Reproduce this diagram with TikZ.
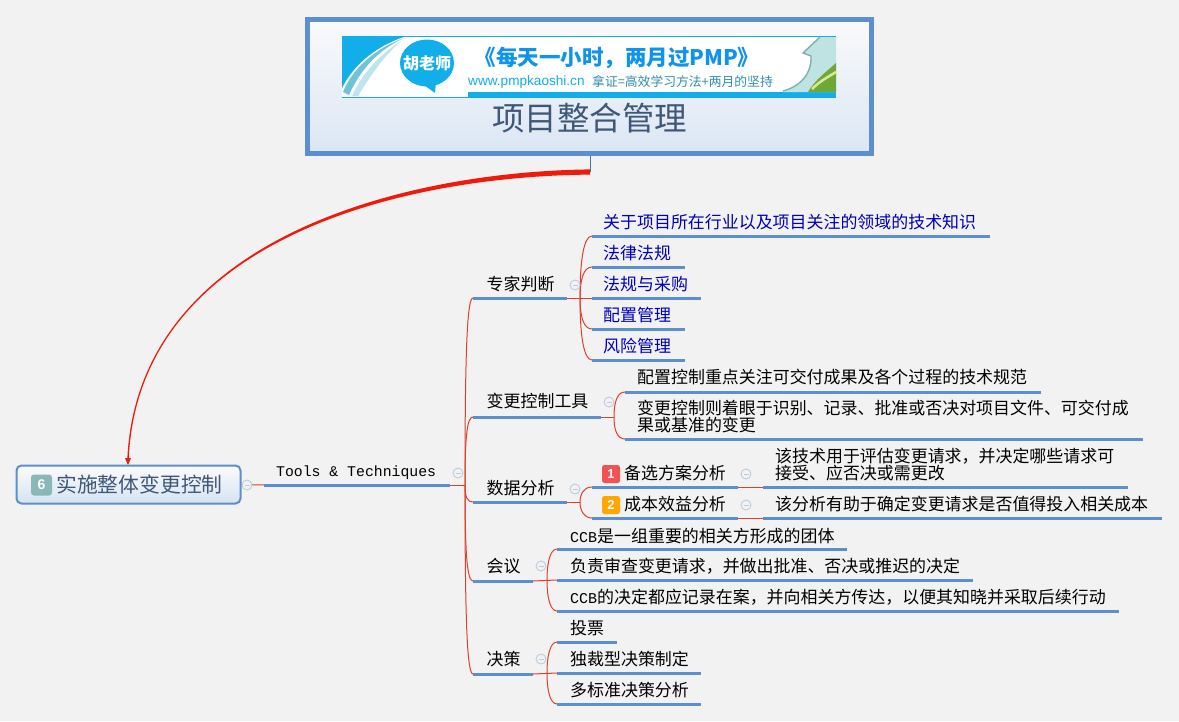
\documentclass[tikz,border=0pt]{standalone}
\usepackage{fontspec}
\setmainfont{Noto Sans CJK SC}
\newfontfamily\latinmono{Liberation Mono}
\newfontfamily\latinsans{Liberation Sans}
\definecolor{bgc}{HTML}{F2F2F2}
\definecolor{barblue}{HTML}{5B8FCF}
\definecolor{linkred}{HTML}{E0402A}
\definecolor{bigred}{HTML}{F01A0A}
\definecolor{inkblue}{HTML}{0000C0}
\definecolor{banc}{HTML}{12AEEA}
\definecolor{titlec}{HTML}{3F5878}
\definecolor{togc}{HTML}{BCCBE0}
\definecolor{stripe}{HTML}{6FC3D8}
\definecolor{paleteal}{HTML}{BFE2E2}
\definecolor{edgeteal}{HTML}{7FB0B0}
\definecolor{leaf}{HTML}{6FA83A}
\definecolor{leafy}{HTML}{DDE88A}
\usetikzlibrary{calc}
\tikzset{
  x=1pt,y=-1pt,
  bar/.style={draw=barblue,line width=3pt},
  link/.style={draw=linkred,line width=1pt},
  txt/.style={anchor=west,inner sep=0pt,font=\fontsize{16.95}{17}\selectfont,text=black,align=left},
  bluetxt/.style={txt,text=inkblue},
  toggle/.style={circle,draw=togc,fill=bgc,line width=.9pt,minimum size=10pt,inner sep=0pt,path picture={\draw[togc,line width=.9pt] ([xshift=-2.5pt]path picture bounding box.center)--([xshift=2.5pt]path picture bounding box.center);}},
  badge/.style={rounded corners=2.5pt,minimum size=18pt,inner sep=0pt,text=white,font=\latinsans\bfseries\fontsize{13}{13}\selectfont},
}
\newcommand{\topicbar}[8]{%
  \coordinate (#1-l) at (#2,#4);
  \coordinate (#1-r) at (#3,#4);
  \draw[bar] (#1-l) -- (#1-r);
  \node[#7] (#1-t) at (#5,#6) {#8};
}
% junction, child, fraction of the vertical run kept straight
\newcommand{\branch}[3]{%
  \draw[link] (#1) .. controls ($(#1)!#3!(#1 |- #2-l)$) and ($(#1 |- #2-l)!.3!(#2-l)$) .. (#2-l);
}
\newcommand{\ccb}{{\latinmono\fontsize{15}{17}\selectfont CCB}}
\begin{document}
\begin{tikzpicture}
\useasboundingbox (0,0) rectangle (1179,721);
\fill[bgc] (0,0) rectangle (1179,721);

% top box
\node[draw=barblue,line width=5pt,top color=white!60!bgc,bottom color=barblue!22!white,minimum width=564pt,minimum height=134pt,inner sep=0pt] (topbox) at (589,86) {};
% banner
\fill[white] (342,36) rectangle (836,98);
\draw[banc,line width=.8pt] (342,36.5) -- (836,36.5);
\fill[banc] (342,36) -- (407,36) .. controls (380,44) and (355,62) .. (342,88) -- cycle;
\fill[stripe] (343,92) .. controls (352,70) and (372,50) .. (404,38) .. controls (378,50) and (360,70) .. (349,95) -- cycle;
\fill[white!55!stripe] (352,96) .. controls (362,74) and (378,56) .. (402,40) .. controls (384,56) and (370,76) .. (358,96) -- cycle;
\fill[banc] (468,92) rectangle (836,98);
\fill[banc] (342,96.8) rectangle (468,98);
\fill[paleteal] (820,37) -- (836,37) -- (836,92) -- (783,92) .. controls (795,88) and (812,78) .. (811,56) -- (803,53) -- cycle;
\draw[edgeteal,line width=1.4pt] (820,37) -- (803,53) -- (811,56) .. controls (812,78) and (795,88) .. (783,91);
\fill[leaf] (808,92) .. controls (815,80) and (826,72) .. (836,63) -- (836,92) -- cycle;
\draw[leafy,line width=2.5pt] (812,89) .. controls (820,81) and (828,77) .. (836,72);
\fill[banc] (427,63) ellipse [x radius=27pt,y radius=23.5pt];
\fill[banc] (420,82) -- (436,82) -- (435,93) -- cycle;
\node[inner sep=0pt,text=white,font=\bfseries\fontsize{16}{16}\selectfont] (bn1) at (427,63) {胡老师};
\node[inner sep=0pt,text=banc!85!blue,font=\bfseries\fontsize{21.5}{22}\selectfont] (bn2) at (617,58) {《每天一小时，两月过PMP》};
\node[inner sep=0pt,anchor=west,text=banc,font=\latinsans\fontsize{13.6}{14}\selectfont] (bn3) at (468,82) {www.pmpkaoshi.cn};
\node[inner sep=0pt,anchor=west,text=banc!70!black!85!white,font=\fontsize{12.8}{13}\selectfont] (bn4) at (592,82) {拿证=高效学习方法+两月的坚持};
\node[inner sep=0pt,text=titlec,font=\fontsize{32.5}{33}\selectfont] (title) at (589.5,118) {项目整合管理};

\coordinate (curvestart) at (590,172);
\coordinate (curveend) at (128,465);
\draw[barblue!80!black,line width=.8pt] (topbox.south -| curvestart) -- (curvestart);

% central topic
\node[draw=barblue,line width=2pt,rounded corners=5pt,top color=white!70!bgc,bottom color=barblue!25!white,minimum width=224pt,minimum height=38pt,inner sep=0pt] (central) at (128.5,484.5) {};
\node[fill=teal!45!white!80!gray,rounded corners=3pt,minimum size=21pt,inner sep=0pt,text=white,font=\latinsans\bfseries\fontsize{14}{14}\selectfont] (badge6) at (41.5,485) {6};
\node[inner sep=0pt,anchor=west,text=titlec,font=\fontsize{20.8}{21}\selectfont] (centraltext) at (56,485) {实施整体变更控制};

% big red curve, tapering
\fill[bigred] ($(curvestart)+(0,-2.6)$) .. controls (400,171.8) and (137.4,240) .. ($(curveend)+(-.7,-6)$) -- ($(curveend)+(.7,-6)$) .. controls (138.6,240) and (400,176.2) .. ($(curvestart)+(0,2.6)$) -- cycle;
\fill[bigred] (curveend) -- ++(-3,-7) -- ++(6,0) -- cycle;

% Tools & Techniques
\topicbar{tools}{264}{450}{485}{276}{473}{txt}{\latinmono\fontsize{14.8}{15}\selectfont Tools \& Techniques}
\coordinate (trunk) at (465,485);
\draw[link] (central.east) -- (tools-l);
\draw[link] (tools-r) -- (trunk);
\node[toggle] (tg0) at (247,485) {};
\node[toggle] (tg1) at (458,473) {};

% level 1
\topicbar{expert}{473}{567}{298}{486.5}{284}{txt}{专家判断}
\topicbar{change}{473}{601}{417}{486.5}{401}{txt}{变更控制工具}
\topicbar{data}{473}{567}{502}{486.5}{488}{txt}{数据分析}
\topicbar{meet}{473}{533}{581}{486.5}{566}{txt}{会议}
\topicbar{decide}{473}{533}{674}{486.5}{659}{txt}{决策}
\foreach \c in {expert,change,data,meet,decide}{\branch{trunk}{\c}{.75}}

% expert children
\topicbar{e1}{592}{990}{236}{603}{222}{bluetxt}{关于项目所在行业以及项目关注的领域的技术知识}
\topicbar{e2}{592}{685}{267}{603}{253}{bluetxt}{法律法规}
\topicbar{e3}{592}{701}{298}{603}{284}{bluetxt}{法规与采购}
\topicbar{e4}{592}{685}{329}{603}{315}{bluetxt}{配置管理}
\topicbar{e5}{592}{685}{360}{603}{346}{bluetxt}{风险管理}
\coordinate (jexp) at (580,298);
\draw[link] (expert-r) -- (e3-l);
\foreach \c in {e1,e2,e4,e5}{\branch{jexp}{\c}{.6}}
\node[toggle] (tg2) at (575,285) {};

% change children
\topicbar{c1}{625}{1041}{392}{637}{377}{txt}{配置控制重点关注可交付成果及各个过程的技术规范}
\topicbar{c2}{625}{1143}{439}{637}{416.5}{txt}{变更控制则着眼于识别、记录、批准或否决对项目文件、可交付成\\果或基准的变更}
\coordinate (jchg) at (614,417);
\draw[link] (change-r) -- (jchg);
\foreach \c in {c1,c2}{\branch{jchg}{\c}{.6}}
\node[toggle] (tg3) at (609,402) {};

% data children
\topicbar{d1}{592}{738}{487}{624}{473}{txt}{备选方案分析}
\topicbar{d2}{592}{738}{518}{624}{504}{txt}{成本效益分析}
\node[badge,fill=red!70!white!90!gray] (b1) at (611,474) {1};
\node[badge,fill=orange!70!yellow] (b2) at (611,505) {2};
\coordinate (jdat) at (580,502);
\draw[link] (data-r) -- (jdat);
\foreach \c in {d1,d2}{\branch{jdat}{\c}{.5}}
\node[toggle] (tg4) at (575,489) {};
\topicbar{f1}{763}{1128}{487}{775}{464.5}{txt}{该技术用于评估变更请求，并决定哪些请求可\\接受、应否决或需更改}
\topicbar{f2}{763}{1162}{518}{775}{504}{txt}{该分析有助于确定变更请求是否值得投入相关成本}
\draw[link] (d1-r) -- (f1-l);
\draw[link] (d2-r) -- (f2-l);
\node[toggle] (tg5) at (746,474) {};
\node[toggle] (tg6) at (746,505) {};

% meeting children
\topicbar{m1}{557}{847}{549}{570}{536}{txt}{\ccb 是一组重要的相关方形成的团体}
\topicbar{m2}{557}{973}{580}{570}{566}{txt}{负责审查变更请求，并做出批准、否决或推迟的决定}
\topicbar{m3}{557}{1119}{611}{570}{597}{txt}{\ccb 的决定都应记录在案，并向相关方传达，以便其知晓并采取后续行动}
\coordinate (jmet) at (547,580);
\draw[link] (meet-r) -- (m2-l);
\branch{jmet}{m1}{.55}
\branch{jmet}{m3}{.55}
\node[toggle] (tg7) at (541,566) {};

% decision children
\topicbar{p1}{557}{617}{642}{570}{628}{txt}{投票}
\topicbar{p2}{557}{701}{673}{570}{659}{txt}{独裁型决策制定}
\topicbar{p3}{557}{701}{704}{570}{690}{txt}{多标准决策分析}
\coordinate (jdec) at (547,673);
\draw[link] (decide-r) -- (p2-l);
\branch{jdec}{p1}{.55}
\branch{jdec}{p3}{.55}
\node[toggle] (tg8) at (541,659) {};
\end{tikzpicture}
\end{document}
